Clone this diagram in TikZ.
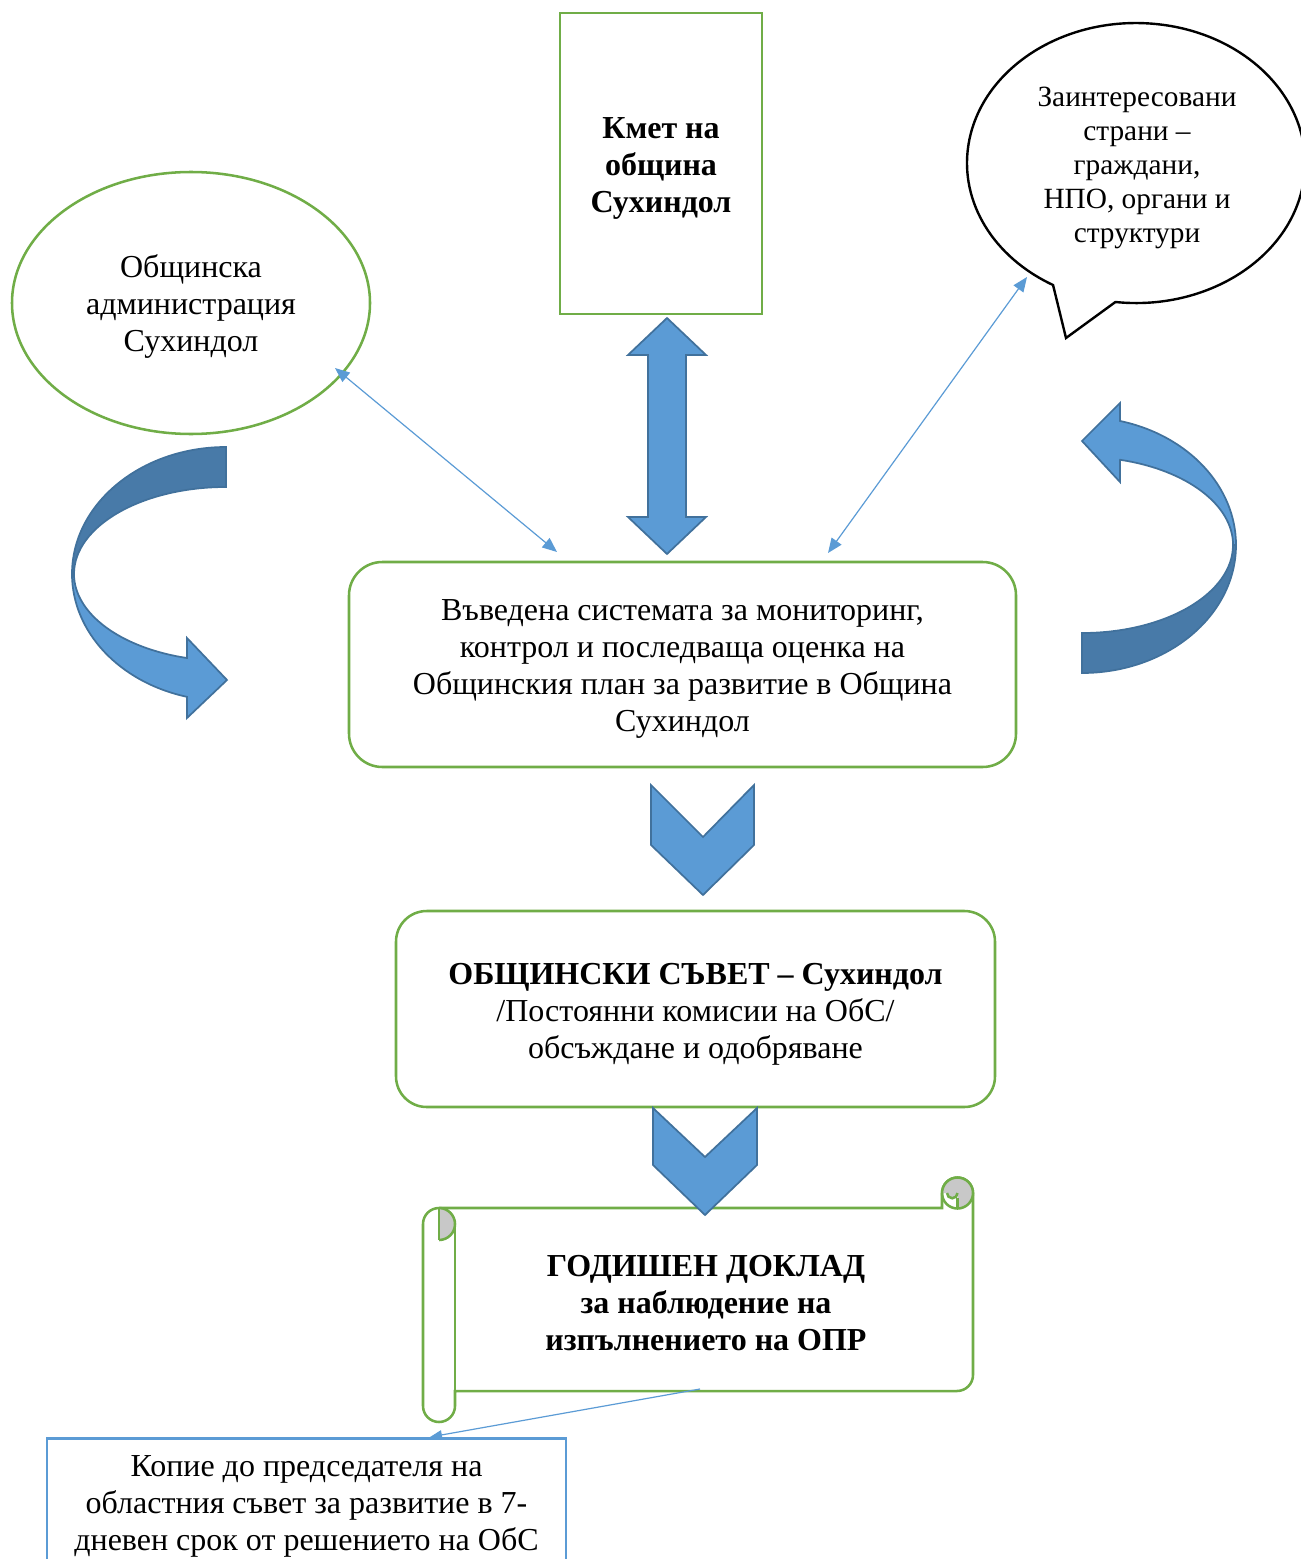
\documentclass[tikz,border=0pt]{standalone}
\usepackage{fontspec}
\setmainfont{Liberation Serif}
\usetikzlibrary{shapes.geometric,arrows.meta,calc}
\definecolor{grn}{HTML}{70AD47}
\definecolor{blfill}{HTML}{5B9BD5}
\definecolor{bledge}{HTML}{41719C}
\definecolor{bldark}{HTML}{487AA8}
\definecolor{curlgray}{HTML}{C8C8C8}
\begin{document}
\begin{tikzpicture}[x=0.75pt,y=-0.75pt,
  txt/.style={font=\fontsize{24}{27.75}\selectfont, align=center},
  greenline/.style={draw=grn, line width=1.9pt},
  bigarrow/.style={fill=blfill, draw=bledge, line width=1.3pt},
  darkband/.style={fill=bldark, draw=bledge, line width=1.3pt},
  thinarrow/.style={draw=blfill, line width=0.9pt, {Triangle[length=11pt,width=9pt]}-{Triangle[length=11pt,width=9pt]}},
  onearrow/.style={draw=blfill, line width=0.9pt, -{Triangle[length=9pt,width=7pt]}}]
\useasboundingbox (0,0) rectangle (1301,1559);
\clip (0,0) rectangle (1301,1559);

% Mayor
\node[greenline, minimum width=151.5pt, minimum height=225.75pt, inner sep=0] (mayor) at (661,163.5) {};
\node[txt] (mayorText) at (661,168.5) {\textbf{Кмет на}\\\textbf{община}\\\textbf{Сухиндол}};

% Municipal administration
\node[greenline, ellipse, minimum width=268.5pt, minimum height=196.5pt, inner sep=0] (adm) at (191,303) {};
\node[txt] (admText) at (191,306) {Общинска\\администрация\\Сухиндол};

% Speech bubble
\draw[black, line width=1.8pt, fill=white] (1115.4,302) arc[start angle=97, end angle=-240.6, x radius=169, y radius=140] -- (1066,338) -- cycle;
\node[font=\fontsize{22}{25.5}\selectfont, align=center] (stake) at (1137,168)
  {Заинтересовани\\страни –\\граждани,\\НПО, органи и\\структури};

% Left curved arrow
\draw[darkband] (226,447) arc[start angle=270, end angle=180, x radius=154, y radius=127] -- (74,574) arc[start angle=180, end angle=270, x radius=152, y radius=87] -- cycle;
\draw[bigarrow] (72,574) arc[start angle=180, end angle=104.7, x radius=154, y radius=127] -- (187,718) -- (227,680) -- (187,638) -- (186.9,658) arc[start angle=104.9, end angle=180, x radius=152, y radius=87] -- cycle;

% Right curved arrow
\draw[darkband] (1082,673) arc[start angle=90, end angle=0, x radius=154, y radius=128] -- (1233,545) arc[start angle=0, end angle=90, x radius=151, y radius=88] -- cycle;
\draw[bigarrow] (1236,545) arc[start angle=0, end angle=-75.7, x radius=154, y radius=128] -- (1120,403) -- (1082,441) -- (1120,482) -- (1120.1,459.8) arc[start angle=-75.4, end angle=0, x radius=151, y radius=88] -- cycle;

% Monitoring box
\node[greenline, rounded corners=25pt, minimum width=500.25pt, minimum height=153.75pt] (mon) at (682.5,664.5) {};
\node[txt] (monText) at (682.5,668.5)
  {Въведена системата за мониторинг,\\контрол и последваща оценка на\\Общинския план за развитие в Община\\Сухиндол};

% Up-down arrow between mayor and monitoring box
\draw[bigarrow] (667,318) -- (706,355) -- (686,355) -- (686,517) -- (706,517) -- (667,554) -- (628,517) -- (648,517) -- (648,355) -- (628,355) -- cycle;

% Thin double arrows
\coordinate (admTip) at (335,368);
\coordinate (monTipL) at (557,552);
\coordinate (stakeTip) at (1027,277);
\coordinate (monTipR) at (828,553);
\draw[thinarrow] (admTip) -- (monTipL);
\draw[thinarrow] (stakeTip) -- (monTipR);

% Chevron 1
\draw[bigarrow] (651,785) -- (703,837) -- (754,785) -- (754,845) -- (703,895) -- (651,845) -- cycle;

% Council box
\node[greenline, rounded corners=23pt, minimum width=449.25pt, minimum height=147pt] (council) at (695.5,1009) {};
\node[txt] (councilText) at (695.5,1014)
  {\textbf{ОБЩИНСКИ СЪВЕТ – Сухиндол}\\/Постоянни комисии на ОбС/\\обсъждане и одобряване};

% Scroll
\draw[greenline, fill=white] (439,1208) -- (942,1208) -- (942,1193) arc[start angle=180, end angle=360, radius=15.5] -- (973,1375) arc[start angle=0, end angle=90, radius=16] -- (455,1391) -- (455,1406) arc[start angle=0, end angle=180, radius=16] -- (423,1224) arc[start angle=180, end angle=270, radius=16] -- cycle;
% left curl
\fill[curlgray] (439,1208) arc[start angle=270, end angle=450, radius=16] -- cycle;
\draw[greenline] (439,1208) arc[start angle=270, end angle=450, radius=16];
\draw[greenline] (439,1208) -- (439,1240);
\draw[greenline] (455,1224) -- (455,1391);
% right curl
\fill[curlgray] (957.5,1193) -- (942,1193) arc[start angle=180, end angle=450, radius=15.5] -- cycle;
\fill[curlgray] (947,1193) arc[start angle=180, end angle=0, radius=5.25] -- cycle;
\draw[greenline] (942,1193) arc[start angle=180, end angle=540, radius=15.5];
\draw[greenline] (957.5,1198) -- (957.5,1208);
\draw[greenline] (947,1193) arc[start angle=180, end angle=0, radius=5.25];
\node[txt] (report) at (706,1303) {\textbf{ГОДИШЕН ДОКЛАД}\\\textbf{за наблюдение на}\\\textbf{изпълнението на ОПР}};

% Chevron 2
\draw[bigarrow] (653,1108) -- (705,1157) -- (757,1108) -- (757,1165) -- (705,1215) -- (653,1165) -- cycle;

% Copy box
\node[draw=blfill, line width=2pt, minimum width=389.25pt, minimum height=150pt, anchor=north] (copy) at (306.5,1437) {};
\node[txt] (copytext) at (306.5,1506) {Копие до председателя на\\областния съвет за развитие в 7-\\дневен срок от решението на ОбС};
\coordinate (repBot) at (700,1389);
\coordinate (copyTop) at (430,1437);
\draw[onearrow] (repBot) -- (copyTop);
\end{tikzpicture}
\end{document}
